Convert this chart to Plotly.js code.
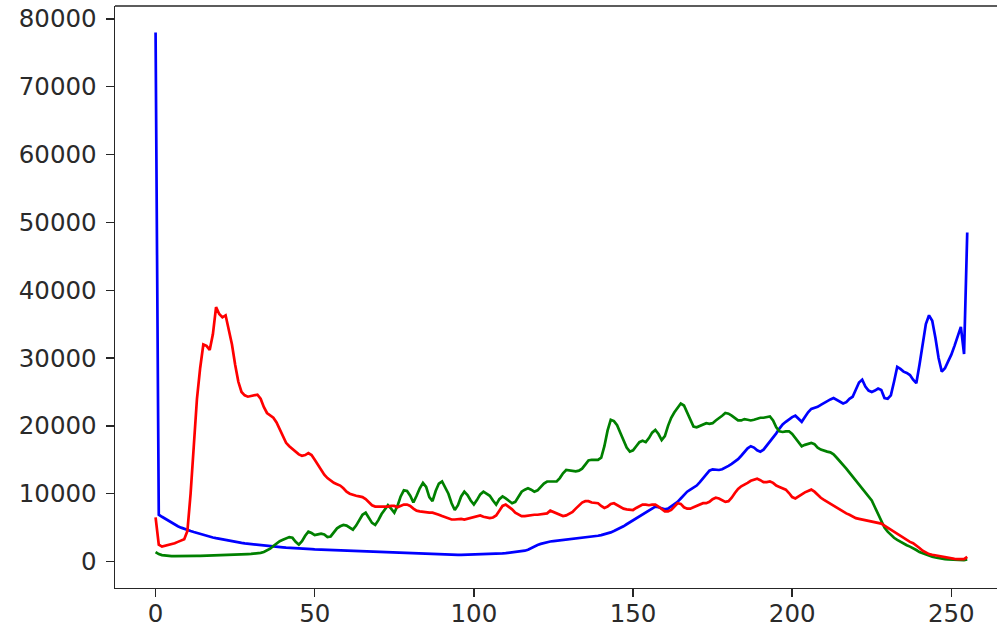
<!DOCTYPE html>
<html>
<head>
<meta charset="utf-8">
<script src="https://cdn.plot.ly/plotly-3.0.1.min.js"></script>
<style>html,body{margin:0;padding:0;background:#fff;}#chart{width:997px;height:634px;}</style>
</head>
<body>
<div id="chart"></div>
<script>
// Histogram of pixel intensities (0..255) for each colour channel
const bins = Array.from({length: 256}, (_, i) => i);

const blueCounts = [
  78000,6900,6600,6300,6000,5700,5450,5200,5000,4800,4650,4500,4350,4200,4050,3900,
  3780,3650,3550,3450,3350,3250,3150,3050,2980,2900,2820,2750,2680,2620,2560,2500,
  2450,2400,2350,2300,2250,2200,2160,2120,2080,2040,2000,1980,1950,1920,1900,1870,
  1850,1830,1800,1780,1760,1740,1720,1700,1680,1660,1640,1620,1600,1580,1560,1540,
  1520,1500,1480,1460,1440,1420,1400,1380,1350,1330,1300,1280,1260,1240,1220,1200,
  1180,1160,1140,1120,1100,1090,1080,1060,1050,1040,1030,1020,1010,1000,1000,990,
  990,1000,1000,1010,1020,1030,1040,1060,1080,1100,1120,1150,1180,1210,1250,1300,
  1350,1400,1450,1500,1600,1750,2000,2250,2450,2600,2750,2850,2950,3000,3050,3100,
  3150,3200,3250,3300,3400,3500,3550,3600,3650,3700,3750,3800,3900,4000,4150,4300,
  4500,4700,4950,5200,5500,5800,6100,6400,6700,7000,7300,7600,7900,8100,8000,7800,
  7700,7800,8100,8500,8800,9300,9800,10300,10600,10900,11200,11700,12300,12900,13400,13600,
  13500,13500,13600,13800,14100,14400,14700,15100,15600,16200,16700,17000,16800,16400,16200,16500,
  17100,17700,18200,18900,19600,20200,20600,21000,21300,21500,21000,20600,21300,22000,22500,22600,
  22800,23100,23400,23600,23900,24100,23800,23500,23300,23500,24000,24300,25500,26400,26800,25800,
  25200,25000,25200,25500,25300,24100,24000,24500,26500,28700,28400,28000,27800,27500,26800,26300,
  29000,32000,35000,36300,35500,33000,30000,28000,28500,29500,30500,31800,33200,34600,30600,48500
];

const greenCounts = [
  1400,1100,950,870,830,810,800,790,790,800,800,810,820,830,840,850,
  860,870,880,900,920,940,960,980,1000,1020,1040,1060,1080,1100,1120,1150,
  1200,1280,1400,1600,1900,2300,2700,3000,3200,3400,3600,3500,2900,2500,3000,3800,
  4400,4200,3900,4000,4100,4000,3600,3700,4300,4900,5200,5400,5300,5000,4700,5300,
  6100,6900,7200,6400,5700,5400,6100,7000,7700,8300,7800,7200,8200,9600,10500,10400,
  9700,8700,9700,10800,11600,11000,9500,8900,10400,11500,11800,11000,10000,8600,7600,8300,
  9600,10300,9800,9000,8400,9100,9900,10300,10000,9700,9000,8400,9200,9600,9300,8900,
  8600,8800,9600,10300,10600,10800,10600,10300,10500,11000,11500,11800,11800,11700,11800,12300,
  13000,13500,13400,13300,13300,13400,13700,14300,14900,15000,15000,15000,15300,17000,19300,20900,
  20700,20100,19000,17800,16800,16200,16400,17000,17600,17800,17600,18200,19000,19400,18800,17900,
  18500,20000,21200,22000,22700,23300,23000,22000,20800,19900,19800,20000,20200,20400,20300,20400,
  20800,21100,21500,21900,21800,21500,21100,20800,20800,21000,20900,20800,20900,21100,21200,21200,
  21300,21400,20800,19800,19200,19100,19200,19200,18800,18200,17600,17000,17200,17400,17500,17300,
  16800,16500,16300,16200,16100,15800,15300,14800,14300,13700,13100,12500,12000,11400,10800,10200,
  9600,9000,8000,7000,5900,5000,4400,3900,3500,3200,2900,2600,2400,2200,2000,1700,
  1400,1200,1000,850,700,600,500,420,360,320,280,250,230,220,220,300
];

const redCounts = [
  6500,2500,2200,2300,2400,2500,2700,2900,3100,3300,4500,10000,17000,24000,28500,32000,
  31800,31200,33500,37500,36500,36000,36300,34000,32000,29000,26500,25000,24500,24300,24400,24500,
  24600,24000,22800,21900,21500,21200,20500,19500,18500,17500,17000,16600,16200,15800,15600,15700,
  16000,15700,15000,14200,13400,12800,12300,11900,11600,11400,11200,10800,10300,10000,9800,9700,
  9600,9500,9200,8700,8300,8100,8100,8000,8100,8100,8200,8200,8000,8200,8400,8400,
  8200,7800,7500,7400,7300,7300,7200,7200,7100,6900,6700,6500,6300,6200,6200,6300,
  6300,6200,6300,6400,6600,6700,6800,6600,6500,6400,6500,6800,7500,8200,8400,8100,
  7700,7200,6900,6700,6700,6800,6800,6900,6900,7000,7000,7100,7500,7300,7000,6800,
  6700,6800,7000,7300,7800,8200,8700,8900,8900,8700,8600,8600,8200,7900,8100,8500,
  8600,8300,8000,7800,7700,7600,7600,7900,8200,8400,8400,8300,8400,8400,8100,7700,
  7400,7400,7600,8100,8600,8500,8000,7800,7800,8000,8200,8400,8600,8600,8800,9200,
  9400,9300,9000,8800,8900,9400,10100,10700,11100,11300,11600,11900,12100,12200,12000,11700,
  11700,11800,11600,11200,11000,10800,10600,10100,9500,9300,9600,10000,10200,10400,10600,10300,
  9800,9400,9100,8800,8600,8300,8000,7700,7400,7100,6900,6600,6400,6300,6200,6100,
  6100,6000,5900,5800,5600,5300,5000,4700,4300,4000,3700,3500,3200,2900,2700,2400,
  2000,1600,1300,1100,1000,900,850,800,700,600,500,400,350,300,350,700
];

const xTicks = [0, 50, 100, 150, 200, 250];
const yTicks = [0, 10000, 20000, 30000, 40000, 50000, 60000, 70000, 80000];

const series = [
  {name: 'b', y: blueCounts, color: '#0000ff'},
  {name: 'g', y: greenCounts, color: '#008000'},
  {name: 'r', y: redCounts, color: '#ff0000'}
];

const traces = series.map(s => ({
  type: 'scatter', mode: 'lines', x: bins, y: s.y, name: s.name,
  line: {color: s.color, width: 2.7}, hoverinfo: 'x+y'
}));

const axisCommon = {
  showgrid: false, zeroline: false, showline: true, linecolor: '#262626', linewidth: 1.4,
  ticks: 'outside', ticklen: 8, tickwidth: 1.4, tickcolor: '#262626',
  tickfont: {family: 'DejaVu Sans', size: 24.5, color: '#2a2a2a'}
};

const layout = {
  width: 997, height: 634,
  margin: {l: 115, r: 0, t: 6, b: 46, pad: 0},
  paper_bgcolor: '#ffffff', plot_bgcolor: '#ffffff',
  showlegend: false,
  xaxis: Object.assign({}, axisCommon, {
    range: [-12.75, 264.35], tickmode: 'array', tickvals: xTicks, ticktext: xTicks.map(String),
    ticklabelstandoff: -5
  }),
  yaxis: Object.assign({}, axisCommon, {
    range: [-3900, 81900], tickmode: 'array', tickvals: yTicks, ticktext: yTicks.map(String),
    ticklabelstandoff: 4
  }),
  shapes: [{
    type: 'line', xref: 'paper', yref: 'paper', x0: 0, x1: 1, y0: 1, y1: 1,
    line: {color: '#262626', width: 1.4}
  }]
};

Plotly.newPlot('chart', traces, layout, {displayModeBar: false, staticPlot: true});
</script>
</body>
</html>
